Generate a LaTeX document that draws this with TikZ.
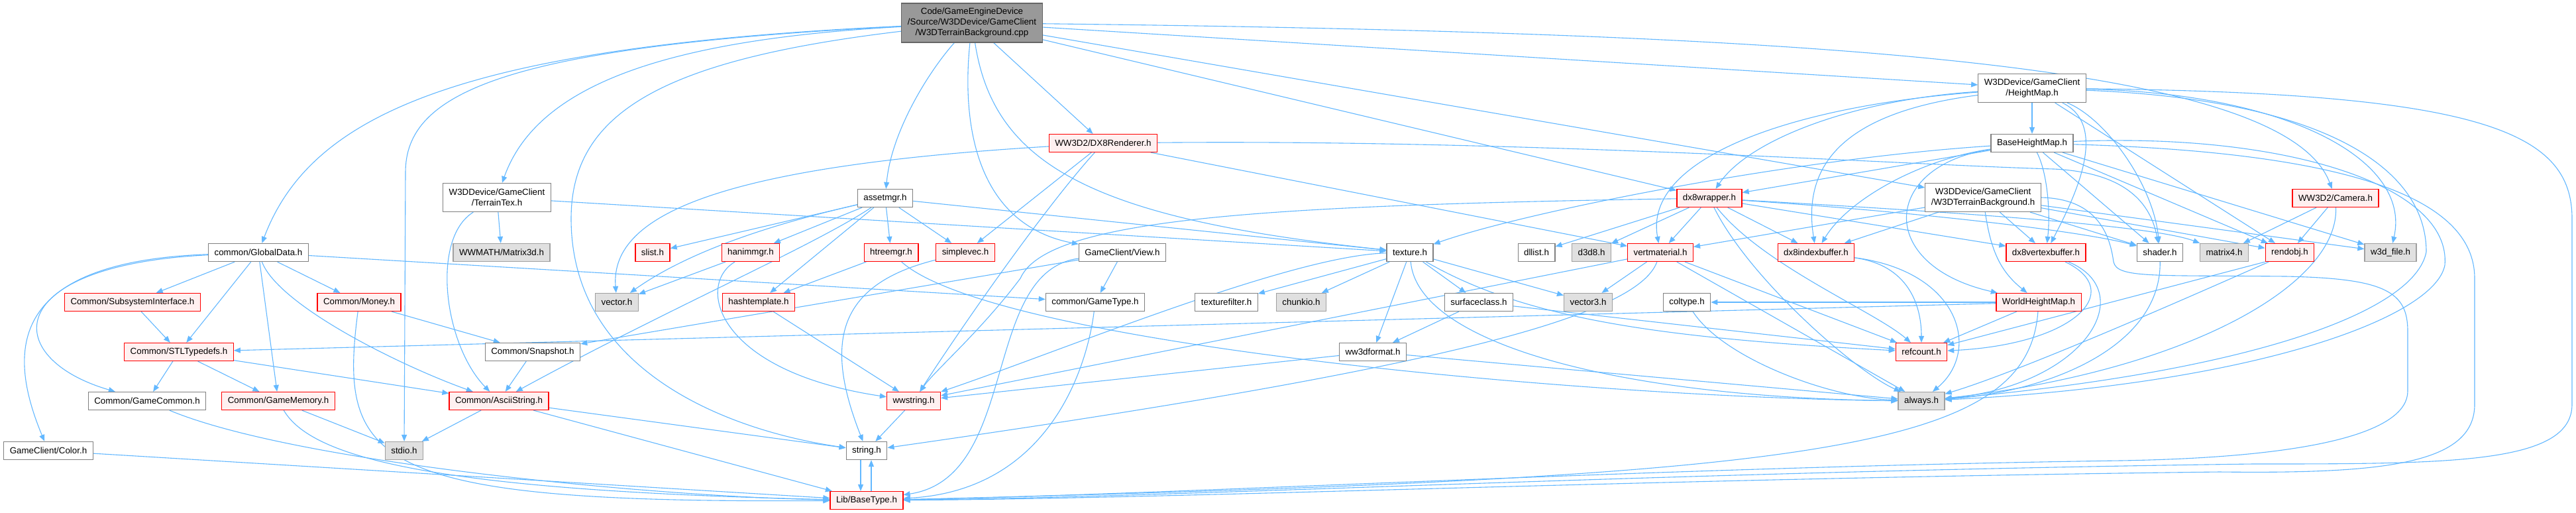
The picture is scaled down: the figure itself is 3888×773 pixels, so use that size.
\documentclass[tikz,border=0pt]{standalone}
\usepackage{fontspec}
\setmainfont{Liberation Sans}
\usepackage{xcolor}
\usetikzlibrary{arrows.meta, backgrounds}
\definecolor{edgeblue}{HTML}{63B8FF}
\definecolor{nodegrey}{HTML}{808080}
\definecolor{redfill}{HTML}{FFF0F0}
\definecolor{greyfill}{HTML}{E0E0E0}
\definecolor{greyline}{HTML}{A0A0A0}
\definecolor{rootfill}{HTML}{999999}
\definecolor{rootline}{HTML}{666666}
\tikzset{
  hfile/.style={rectangle, draw=nodegrey, fill=white, line width=0.6pt,
    font=\fontsize{6.67}{8}\selectfont, align=center,
    minimum height=13.5pt, inner xsep=4.5pt, inner ysep=1pt},   % documented header
  hred/.style ={hfile, draw=red, fill=redfill},                % truncated header
  hgrey/.style={hfile, draw=greyline, fill=greyfill},          % undocumented header
  hroot/.style={hfile, draw=rootline, fill=rootfill, minimum height=29.5pt},
  twoline/.style={minimum height=21.5pt},
  incl/.style={-{Triangle[length=5pt,width=4pt]}, draw=edgeblue, line width=0.55pt}, % include
}
\begin{document}
\begin{tikzpicture}[x=0.5pt, y=-0.5pt]
\useasboundingbox (0,0) rectangle (3888,773);

% rows 0-3
\node[hroot] (root) at (1467,34.5) {Code/GameEngineDevice\\/Source/W3DDevice/GameClient\\/W3DTerrainBackground.cpp};
\node[hfile, twoline] (hmap) at (3067,133) {W3DDevice/GameClient\\/HeightMap.h};
\node[hred] (dxrend) at (1665,216) {WW3D2/DX8Renderer.h};
\node[hfile] (bhmap) at (3067,216) {BaseHeightMap.h};
\node[hfile, twoline] (ttex) at (750,298) {W3DDevice/GameClient\\/TerrainTex.h};
\node[hfile] (assetmgr) at (1336,299) {assetmgr.h};
\node[hred] (dxwrap) at (2580,299) {dx8wrapper.h};
\node[hfile, twoline] (tbgh) at (2993,298) {W3DDevice/GameClient\\/W3DTerrainBackground.h};
\node[hred] (camera) at (3525,299) {WW3D2/Camera.h};

% row 4
\node[hfile] (gdata) at (390,381) {common/GlobalData.h};
\node[hgrey] (mat3d) at (757,381) {WWMATH/Matrix3d.h};
\node[hred] (slist) at (985,381) {slist.h};
\node[hred] (hanim) at (1133,381) {hanimmgr.h};
\node[hred] (htree) at (1345,381) {htreemgr.h};
\node[hred] (svec) at (1457,381) {simplevec.h};
\node[hfile] (view) at (1694,381) {GameClient/View.h};
\node[hfile] (tex) at (2128,381) {texture.h};
\node[hfile] (dllist) at (2319,381) {dllist.h};
\node[hgrey] (d3d8) at (2402,381) {d3d8.h};
\node[hred] (vmat) at (2506,381) {vertmaterial.h};
\node[hred] (ibuf) at (2741,381) {dx8indexbuffer.h};
\node[hred] (vbuf) at (3088,381) {dx8vertexbuffer.h};
\node[hfile] (shader) at (3260,381) {shader.h};
\node[hgrey] (mat4) at (3357,381) {matrix4.h};
\node[hred] (rendobj) at (3456,381) {rendobj.h};
\node[hgrey] (w3dfile) at (3608,381) {w3d\_file.h};

% row 5
\node[hred] (subsys) at (200,456) {Common/SubsystemInterface.h};
\node[hred] (money) at (542,456) {Common/Money.h};
\node[hgrey] (vector) at (931,456) {vector.h};
\node[hred] (hashtpl) at (1145,456) {hashtemplate.h};
\node[hfile] (gtype) at (1653,456) {common/GameType.h};
\node[hfile] (texfilt) at (1851,456) {texturefilter.h};
\node[hgrey] (chunkio) at (1964,456) {chunkio.h};
\node[hfile] (surf) at (2232,456) {surfaceclass.h};
\node[hgrey] (vec3) at (2397,456) {vector3.h};
\node[hfile] (coltype) at (2546,456) {coltype.h};
\node[hred] (whmap) at (3077,456) {WorldHeightMap.h};

% rows 6-9
\node[hred] (stl) at (270,531) {Common/STLTypedefs.h};
\node[hfile] (snap) at (804,531) {Common/Snapshot.h};
\node[hfile] (w3dfmt) at (2072,531) {ww3dformat.h};
\node[hred] (refcnt) at (2900,531) {refcount.h};
\node[hfile] (gcommon) at (222,605) {Common/GameCommon.h};
\node[hred] (gmem) at (420,605) {Common/GameMemory.h};
\node[hred] (astr) at (753,605) {Common/AsciiString.h};
\node[hred] (wwstr) at (1379,605) {wwstring.h};
\node[hgrey] (always) at (2900,605) {always.h};
\node[hfile] (color) at (73,680) {GameClient/Color.h};
\node[hgrey] (stdio) at (610,680) {stdio.h};
\node[hfile] (string) at (1308,680) {string.h};
\node[hred] (btype) at (1308,755) {Lib/BaseType.h};

\begin{scope}[on background layer]
\fill[white] (0,0) rectangle (3888,773);
% from the .cpp
\draw[incl] (root) .. controls (700,70) and (470,170) .. (gdata);
\draw[incl] (root) .. controls (1000,60) and (810,130) .. (ttex);
\draw[incl] (root) .. controls (760,70) and (612,140) .. (612,260) -- (stdio);
\draw[incl] (root) .. controls (1000,90) and (862,170) .. (862,330) .. controls (862,560) and (1100,650) .. (string);
\draw[incl] (root) .. controls (1400,110) and (1345,200) .. (assetmgr);
\draw[incl] (root) .. controls (1450,200) and (1480,340) .. (view);
\draw[incl] (root) .. controls (1500,250) and (1650,330) .. (tex);
\draw[incl] (root) -- (dxrend);
\draw[incl] (root) -- (dxwrap);
\draw[incl] (root) -- (hmap);
\draw[incl] (root) -- (tbgh);
\draw[incl] (root) .. controls (2800,50) and (3450,100) .. (camera);

% common headers
\draw[incl] (gdata) -- (subsys);
\draw[incl] (gdata) -- (stl);
\draw[incl] (gdata) -- (gmem);
\draw[incl] (gdata) -- (money);
\draw[incl] (gdata) .. controls (0,400) and (0,540) .. (gcommon);
\draw[incl] (gdata) .. controls (0,395) and (15,540) .. (color);
\draw[incl] (gdata) .. controls (420,460) and (600,550) .. (astr);
\draw[incl] (gdata) -- (gtype);
\draw[incl] (subsys) -- (stl);
\draw[incl] (money) -- (snap);
\draw[incl] (money) .. controls (510,700) and (560,760) .. (btype);
\draw[incl] (stl) -- (gcommon);
\draw[incl] (stl) -- (gmem);
\draw[incl] (stl) -- (astr);
\draw[incl] (gcommon) .. controls (450,700) and (1000,750) .. (btype);
\draw[incl] (gmem) -- (stdio);
\draw[incl] (gmem) .. controls (470,690) and (650,740) .. (btype);
\draw[incl] (color) -- (btype);
\draw[incl] (snap) -- (astr);
\draw[incl] (astr) -- (stdio);
\draw[incl] (astr) -- (string);
\draw[incl] (astr) -- (btype);
\draw[incl] ([xshift=-4.5pt]string.south) -- ([xshift=-4.5pt]btype.north);
\draw[incl] ([xshift=3.5pt]btype.north) -- ([xshift=3.5pt]string.south);
\draw[incl] (wwstr) -- (string);

% terrain tex and asset manager
\draw[incl] (ttex) -- (mat3d);
\draw[incl] (ttex) .. controls (650,360) and (670,520) .. (astr);
\draw[incl] (ttex) -- (tex);
\draw[incl] (assetmgr) -- (slist);
\draw[incl] (assetmgr) -- (hanim);
\draw[incl] (assetmgr) -- (htree);
\draw[incl] (assetmgr) -- (svec);
\draw[incl] (assetmgr) .. controls (1180,335) and (1045,375) .. (vector);
\draw[incl] (assetmgr) -- (hashtpl);
\draw[incl] (assetmgr) .. controls (1230,370) and (1000,470) .. (astr);
\draw[incl] (assetmgr) -- (tex);
\draw[incl] (hanim) -- (vector);
\draw[incl] (hanim) .. controls (1050,430) and (1080,560) .. (wwstr);
\draw[incl] (htree) -- (hashtpl);
\draw[incl] (htree) .. controls (1500,520) and (2400,600) .. (always);
\draw[incl] (svec) .. controls (1260,430) and (1245,520) .. (string);
\draw[incl] (hashtpl) -- (wwstr);
\draw[incl] (view) -- (gtype);
\draw[incl] (view) -- (snap);
\draw[incl] (view) .. controls (1480,410) and (1540,720) .. (btype);
\draw[incl] (gtype) .. controls (1640,560) and (1580,740) .. (btype);

% renderer and wrapper
\draw[incl] (dxrend) -- (svec);
\draw[incl] (dxrend) .. controls (1100,250) and (920,320) .. (vector);
\draw[incl] (dxrend) .. controls (1580,310) and (1460,480) .. (wwstr);
\draw[incl] (dxrend) -- (vmat);
\draw[incl] (dxrend) .. controls (2300,210) and (2900,250) .. (3100,255) .. controls (3200,260) and (3245,300) .. (shader);
\draw[incl] (dxwrap) .. controls (1900,310) and (1580,330) .. (1540,420) .. controls (1480,500) and (1410,560) .. (wwstr);
\draw[incl] (dxwrap) -- (dllist);
\draw[incl] (dxwrap) -- (d3d8);
\draw[incl] (dxwrap) -- (vmat);
\draw[incl] (dxwrap) -- (ibuf);
\draw[incl] (dxwrap) -- (vbuf);
\draw[incl] (dxwrap) .. controls (2900,320) and (3150,350) .. (shader);
\draw[incl] (dxwrap) .. controls (2950,320) and (3250,340) .. (mat4);
\draw[incl] (dxwrap) .. controls (2660,400) and (2830,470) .. (refcnt);
\draw[incl] (dxwrap) .. controls (2640,420) and (2800,560) .. (always);

% height maps
\draw[incl] (hmap) -- (bhmap);
\draw[incl] (hmap) .. controls (2800,150) and (2640,210) .. (dxwrap);
\draw[incl] (hmap) .. controls (2780,170) and (2720,250) .. (ibuf);
\draw[incl] (hmap) .. controls (2700,160) and (2480,240) .. (vmat);
\draw[incl] (hmap) .. controls (3185,190) and (3130,300) .. (vbuf);
\draw[incl] (hmap) .. controls (3180,180) and (3250,280) .. (shader);
\draw[incl] (hmap) -- (rendobj);
\draw[incl] (hmap) .. controls (3450,140) and (3640,240) .. (w3dfile);
\draw[incl] (hmap) .. controls (3500,150) and (3662,250) .. (3662,380) .. controls (3645,470) and (3400,560) .. (always);
\draw[incl] (hmap) .. controls (3750,140) and (3882,200) .. (3882,330) -- (3882,610) .. controls (3882,700) and (3700,700) .. (3400,700) .. controls (2500,712) and (1800,750) .. (btype);
\draw[incl] (bhmap) -- (dxwrap);
\draw[incl] (bhmap) .. controls (2700,240) and (2300,320) .. (tex);
\draw[incl] (bhmap) .. controls (2900,240) and (2790,300) .. (ibuf);
\draw[incl] (bhmap) .. controls (3090,260) and (3095,320) .. (vbuf);
\draw[incl] (bhmap) -- (shader);
\draw[incl] (bhmap) -- (rendobj);
\draw[incl] (bhmap) -- (w3dfile);
\draw[incl] (bhmap) .. controls (2840,250) and (2830,400) .. (whmap);
\draw[incl] (bhmap) .. controls (3450,200) and (3700,280) .. (3690,400) .. controls (3675,480) and (3400,580) .. (always);
\draw[incl] (bhmap) .. controls (3550,230) and (3735,300) .. (3735,420) -- (3735,610) .. controls (3735,700) and (3600,715) .. (3350,712) .. controls (2500,722) and (1800,752) .. (btype);
\draw[incl] (tbgh) -- (ibuf);
\draw[incl] (tbgh) -- (vbuf);
\draw[incl] (tbgh) -- (vmat);
\draw[incl] (tbgh) -- (shader);
\draw[incl] (tbgh) -- (rendobj);
\draw[incl] (tbgh) -- (w3dfile);
\draw[incl] (tbgh) .. controls (3005,380) and (3020,410) .. (whmap);
\draw[incl] (tbgh.east) .. controls (3170,300) and (3185,360) .. (3190,395) .. controls (3195,420) and (3250,415) .. (3450,417) .. controls (3600,420) and (3634,440) .. (3634,500) -- (3634,590) .. controls (3634,650) and (3500,690) .. (3200,695) .. controls (2500,705) and (1800,745) .. (btype);
\draw[incl] (camera) -- (mat4);
\draw[incl] (camera) -- (rendobj);
\draw[incl] (camera) .. controls (3530,430) and (3300,560) .. (always);
\draw[incl] (rendobj.south west) -- (refcnt);
\draw[incl] (rendobj) .. controls (3300,450) and (3050,560) .. (always);
\draw[incl] (shader) .. controls (3262,520) and (3100,590) .. (always);
\draw[incl] (ibuf) .. controls (2880,400) and (2900,460) .. (refcnt);
\draw[incl] (ibuf) .. controls (2960,410) and (2990,530) .. (always);
\draw[incl] (vbuf) .. controls (3210,440) and (3130,520) .. (refcnt);
\draw[incl] (vbuf) .. controls (3230,440) and (3150,580) .. (always);
\draw[incl] (whmap) -- (refcnt);
\draw[incl] (whmap) -- (coltype);
\draw[incl] (whmap) -- (stl);
\draw[incl] (whmap) .. controls (3060,680) and (2750,720) .. (btype);
\draw[incl] (coltype) .. controls (2600,540) and (2760,600) .. (always);

% texture and material
\draw[incl] (vmat) -- (vec3);
\draw[incl] (vmat) -- (refcnt);
\draw[incl] (vmat) -- (always);
\draw[incl] (vmat) -- (wwstr);
\draw[incl] (vmat) .. controls (2470,480) and (2150,560) .. (string);
\draw[incl] (tex) -- (chunkio);
\draw[incl] (tex) -- (texfilt);
\draw[incl] (tex) -- (surf);
\draw[incl] (tex) -- (w3dfmt);
\draw[incl] (tex) -- (vec3);
\draw[incl] (tex) .. controls (1950,385) and (1600,530) .. (wwstr);
\draw[incl] (tex) .. controls (2300,480) and (2500,510) .. (refcnt);
\draw[incl] (tex) .. controls (2140,520) and (2450,600) .. (always);
\draw[incl] (surf) -- (w3dfmt);
\draw[incl] (surf) -- (refcnt);
\draw[incl] (w3dfmt) -- (wwstr);
\draw[incl] (w3dfmt) -- (always);
\end{scope}

\end{tikzpicture}
\end{document}
